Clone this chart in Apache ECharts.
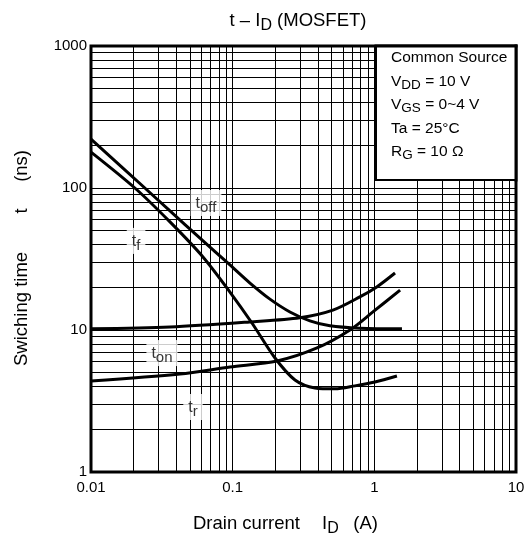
<!DOCTYPE html>
<html>
<head>
<meta charset="utf-8">
<script src="https://cdn.jsdelivr.net/npm/echarts@6/dist/echarts.min.js"></script>
<style>html,body{margin:0;padding:0;background:#fff}#c{width:531px;height:544px}</style>
</head>
<body>
<div id="c"></div>
<script>
// ---- data ----
const xTickLabels = ['0.01', '0.1', '1', '10'];
const yTickLabels = ['1', '10', '100', '1000'];
const gridMultipliers = [1, 2, 3, 4, 5, 6, 7, 8, 9];
const xDecades = [0.01, 0.1, 1];
const yDecades = [1, 10, 100];

const toff = [[0.01, 221], [0.024, 100], [0.0361, 68.9], [0.0588, 44.4], [0.0957, 28.7], [0.1325, 21.4], [0.1833, 16.5], [0.2537, 13.4], [0.3511, 11.6], [0.486, 10.7], [0.791, 10.3], [1.567, 10.2]];
const tf = [[0.01, 179], [0.0204, 100], [0.0361, 57.7], [0.0617, 32.7], [0.0957, 18.5], [0.1368, 11.2], [0.199, 6.35], [0.2753, 4.45], [0.381, 3.91], [0.527, 3.85], [0.7297, 4.04], [1.01, 4.3], [1.444, 4.74]];
const ton = [[0.01, 10.2], [0.0361, 10.5], [0.132, 11.4], [0.298, 12.2], [0.51, 13.8], [0.79, 17.1], [1.04, 20.1], [1.4, 25.2]];
const tr = [[0.01, 4.38], [0.0425, 4.9], [0.0957, 5.49], [0.206, 6.05], [0.394, 7.47], [0.673, 10], [0.977, 13.4], [1.52, 19.1]];

const curveLabels = [[0.0648, 78.4, 'off'], [0.0208, 42.4, 'f'], [0.0317, 6.88, 'on'], [0.0525, 2.87, 'r']];

const legendLines = [
  '{n|Common Source}',
  '{n|V}{s|DD}{n| = 10 V}',
  '{n|V}{s|GS}{n| = 0~4 V}',
  '{n|Ta = 25°C}',
  '{n|R}{s|G}{n| = 10 Ω}'
];

// ---- chart ----
const FONT = 'Liberation Sans, Arial, sans-serif';
const chart = echarts.init(document.getElementById('c'), null, {renderer: 'canvas'});

const vLines = [];
xDecades.forEach(d => gridMultipliers.forEach(m => { const v = +(d * m).toPrecision(3); if (v > 0.01) vLines.push({xAxis: v}); }));
const hLines = [];
yDecades.forEach(d => gridMultipliers.forEach(m => { const v = d * m; if (v > 1) hLines.push({yAxis: v}); }));

const curveStyle = (data) => ({
  type: 'line', data: data, smooth: 0.3, showSymbol: false, symbol: 'none', z: 5,
  lineStyle: {color: '#000', width: 3}
});

const rich = {
  n: {fontFamily: FONT, fontSize: 15.5, color: '#000'},
  s: {fontFamily: FONT, fontSize: 13.5, color: '#000', padding: [7, 0, 0, 0]}
};

const legendGraphics = legendLines.map((t, i) => ({
  type: 'text', left: 391, top: 58 + i * 23.5 - 8, z: 102,
  style: {text: t, rich: rich, textVerticalAlign: 'top'}
}));

const NAME_FS = 18.5;
const nameRich = {n: {fontFamily: FONT, fontSize: NAME_FS, color: '#000'}, s: {fontFamily: FONT, fontSize: 16, color: '#000', padding: [9, 0, 0, 0]}};

chart.setOption({
  animation: false,
  grid: {left: 91, right: 15, top: 46, bottom: 72, show: true, borderColor: '#000', borderWidth: 3, backgroundColor: '#fff'},
  xAxis: {
    type: 'log', logBase: 10, min: 0.01, max: 10, interval: 1,
    axisLine: {show: false}, axisTick: {show: false}, splitLine: {show: false},
    axisLabel: {
      color: '#000', fontFamily: FONT, fontSize: 15, margin: 8,
      formatter: v => xTickLabels[Math.round(Math.log10(v)) + 2]
    }
  },
  yAxis: {
    type: 'log', logBase: 10, min: 1, max: 1000, interval: 1,
    axisLine: {show: false}, axisTick: {show: false}, splitLine: {show: false},
    axisLabel: {
      color: '#000', fontFamily: FONT, fontSize: 15, margin: 4,
      formatter: v => yTickLabels[Math.round(Math.log10(v))]
    }
  },
  series: [
    {
      type: 'line', data: [[0.01, 1]], symbol: 'none', lineStyle: {opacity: 0}, z: 1, silent: true,
      markLine: {
        silent: true, symbol: ['none', 'none'], label: {show: false},
        lineStyle: {color: '#000', width: 1, type: 'solid'},
        emphasis: {disabled: true},
        data: vLines.concat(hLines)
      }
    },
    curveStyle(toff),
    curveStyle(tf),
    curveStyle(ton),
    curveStyle(tr),
    {
      type: 'scatter', symbolSize: 0, z: 6, silent: true,
      data: curveLabels.map(p => ({value: [p[0], p[1]], sub: p[2]})),
      label: {
        show: true, position: 'inside',
        backgroundColor: '#fff', padding: [3, 5, 1, 5],
        formatter: p => '{m|t}{s|' + p.data.sub + '}',
        rich: {
          m: {fontFamily: FONT, fontSize: 16, color: '#000'},
          s: {fontFamily: FONT, fontSize: 15, color: '#000', padding: [7, 0, 0, 0]}
        }
      }
    }
  ],
  graphic: [
    {
      type: 'rect', z: 100, shape: {x: 376, y: 46, width: 140, height: 134},
      style: {fill: '#fff', stroke: '#000', lineWidth: 2}
    },
    {type: 'rect', z: 101, shape: {x: 514.5, y: 44.5, width: 3, height: 137}, style: {fill: '#000'}},
    {type: 'rect', z: 101, shape: {x: 374.5, y: 44.5, width: 143, height: 3}, style: {fill: '#000'}},
    ...legendGraphics,
    {
      type: 'text', x: 298, y: 21, z: 102,
      style: {
        text: '{n|t – I}{s|D}{n| (MOSFET)}', textAlign: 'center', textVerticalAlign: 'middle',
        rich: nameRich
      }
    },
    {
      type: 'text', x: 193, y: 524, z: 102,
      style: {text: '{n|Drain current}', textAlign: 'left', textVerticalAlign: 'middle', rich: nameRich}
    },
    {
      type: 'text', x: 322, y: 524, z: 102,
      style: {text: '{n|I}{s|D}', textAlign: 'left', textVerticalAlign: 'middle', rich: nameRich}
    },
    {
      type: 'text', x: 378, y: 524, z: 102,
      style: {text: '{n|(A)}', textAlign: 'right', textVerticalAlign: 'middle', rich: nameRich}
    },
    {
      type: 'text', x: 22, y: 366, z: 102, rotation: Math.PI / 2,
      style: {text: 'Swiching time', textAlign: 'left', textVerticalAlign: 'middle', fontFamily: FONT, fontSize: NAME_FS, fill: '#000'}
    },
    {
      type: 'text', x: 22, y: 211, z: 102, rotation: Math.PI / 2,
      style: {text: 't', textAlign: 'center', textVerticalAlign: 'middle', fontFamily: FONT, fontSize: NAME_FS, fill: '#000'}
    },
    {
      type: 'text', x: 22, y: 150, z: 102, rotation: Math.PI / 2,
      style: {text: '(ns)', textAlign: 'right', textVerticalAlign: 'middle', fontFamily: FONT, fontSize: NAME_FS, fill: '#000'}
    }
  ]
});
</script>
</body>
</html>
